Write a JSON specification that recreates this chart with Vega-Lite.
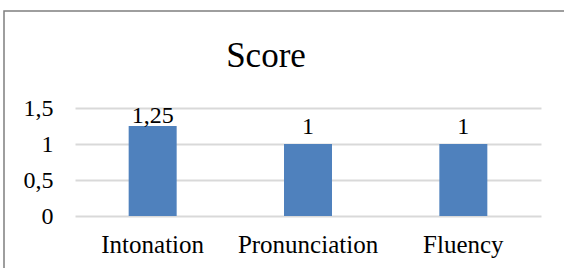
{
  "$schema": "https://vega.github.io/schema/vega-lite/v6.json",
  "usermeta": {"embedOptions": {"actions": false}},
  "width": 570,
  "height": 265,
  "autosize": {"type": "none"},
  "padding": {"left": 4, "top": 11, "right": -10, "bottom": -8},
  "background": "white",
  "config": {
    "locale": {"number": {"decimal": ",", "thousands": ".", "grouping": [3], "currency": ["", " €"]}},
    "font": "Liberation Serif",
    "view": {"stroke": "#7F7F7F", "strokeWidth": 1.5, "fill": "white"}
  },
  "title": {
    "text": "Score",
    "fontSize": 35,
    "fontWeight": "normal",
    "font": "Liberation Serif",
    "color": "black",
    "anchor": "middle",
    "baseline": "alphabetic",
    "dx": -23,
    "dy": 36,
    "offset": -55
  },
  "data": {
    "values": [
      {"category": "Intonation", "score": 1.25},
      {"category": "Pronunciation", "score": 1},
      {"category": "Fluency", "score": 1}
    ]
  },
  "encoding": {
    "x": {
      "field": "category",
      "type": "nominal",
      "sort": null,
      "scale": {"paddingInner": 0, "paddingOuter": 0, "range": [71, 537]},
      "axis": {
        "title": null,
        "labelAngle": 0,
        "domain": false,
        "ticks": false,
        "tickSize": 0,
        "offset": -60,
        "labelFontSize": 25,
        "labelFont": "Liberation Serif",
        "labelColor": "black",
        "labelBaseline": "alphabetic",
        "labelPadding": 36
      }
    },
    "y": {
      "field": "score",
      "type": "quantitative",
      "scale": {"domain": [0, 1.5], "nice": false, "range": [205, 97]},
      "axis": {
        "title": null,
        "values": [0, 0.5, 1, 1.5],
        "format": "~g",
        "domain": false,
        "ticks": false,
        "tickSize": 0,
        "offset": -71,
        "labelFontSize": 24,
        "labelFont": "Liberation Serif",
        "labelColor": "black",
        "labelPadding": 22,
        "gridColor": "#D9D9D9",
        "gridWidth": 2
      }
    }
  },
  "layer": [
    {"mark": {"type": "bar", "size": 48, "color": "#4F81BD"}},
    {
      "transform": [{"filter": "datum.score < 1.2"}],
      "mark": {"type": "text", "baseline": "alphabetic", "dy": -10, "fontSize": 24, "font": "Liberation Serif", "color": "black"},
      "encoding": {"text": {"field": "score", "type": "quantitative", "format": "~g"}}
    },
    {
      "transform": [{"filter": "datum.score >= 1.2"}],
      "mark": {"type": "text", "baseline": "alphabetic", "dy": -3, "fontSize": 24, "font": "Liberation Serif", "color": "black"},
      "encoding": {"text": {"field": "score", "type": "quantitative", "format": "~g"}}
    }
  ]
}
